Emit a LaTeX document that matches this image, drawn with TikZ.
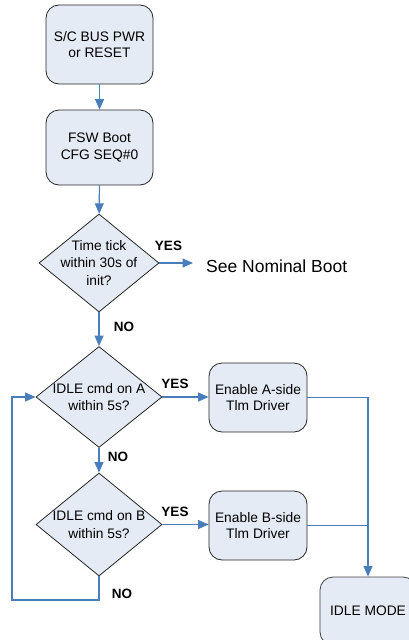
\documentclass[tikz,border=0pt]{standalone}
\usepackage{fontspec}
\setmainfont{Liberation Sans}
\usetikzlibrary{shapes.geometric,arrows.meta}
\definecolor{boxfill}{HTML}{E5EBF5}
\definecolor{flowblue}{HTML}{4A7EBB}
\tikzset{
  x=1pt, y=1pt,
  stepbox/.style={draw=black!85, line width=0.8pt, fill=boxfill, rounded corners=13pt,
    align=center, font=\fontsize{13.8}{16.5}\selectfont, inner sep=0pt},
  decision/.style={draw=black!85, line width=0.8pt, fill=boxfill, shape=diamond,
    inner sep=0pt},
  dtext/.style={align=center, font=\fontsize{13.8}{17.5}\selectfont, inner sep=0pt},
  answer/.style={font=\bfseries\fontsize{13.5}{15}\selectfont, inner sep=0pt},
  conn/.style={draw=flowblue, line width=1.1pt},
  arr/.style={conn, -{Triangle[width=9pt,length=10.5pt]}},
}
\begin{document}
\begin{tikzpicture}
\useasboundingbox (0,0) rectangle (409,-640);
\clip (0,0) rectangle (409,-640);

% process boxes
\node[stepbox, minimum width=107pt, minimum height=79pt] (pwr) at (99.5,-44.5) {S/C BUS PWR\\or RESET};
\node[stepbox, minimum width=107pt, minimum height=75pt] (boot) at (99.5,-147.5) {FSW Boot\\CFG SEQ\#0};

% decisions
\node[decision, minimum width=120pt, minimum height=98pt] (tick) at (99,-263) {};
\node[dtext] at (tick) {Time tick\\within 30s of\\init?};
\node[decision, minimum width=126pt, minimum height=101pt] (idleA) at (99,-397) {};
\node[dtext] at (idleA) {IDLE cmd on A\\within 5s?};
\node[decision, minimum width=126pt, minimum height=103pt] (idleB) at (99,-524.5) {};
\node[dtext] at (idleB) {IDLE cmd on B\\within 5s?};

% driver boxes
\node[stepbox, minimum width=98pt, minimum height=69pt] (drvA) at (258,-397.5) {Enable A-side\\Tlm Driver};
\node[stepbox, minimum width=98pt, minimum height=69pt] (drvB) at (258,-525.5) {Enable B-side\\Tlm Driver};
\node[stepbox, draw=black!75, minimum width=96pt, minimum height=68pt] (idle) at (368,-611) {IDLE MODE};

% off-page reference
\node[anchor=west, inner sep=0pt, font=\fontsize{17.5}{20}\selectfont] (nominal) at (206,-266) {See Nominal Boot};

% connectors
\draw[arr] (pwr) -- (boot);
\draw[arr] (boot) -- (tick);
\draw[arr] (tick.east) -- ([xshift=-13pt]tick.east -| nominal.west);
\draw[arr] (tick) -- (idleA);
\draw[arr] (idleA.east) -- (drvA.west |- idleA.east);
\draw[arr] (idleA) -- (idleB);
\draw[arr] (idleB.east) -- (drvB.west |- idleB.east);
\coordinate (merge) at (368,-397.5);
\draw[arr] (drvA.east) -- (merge) -- (idle.north);
\draw[conn] (drvB.east) -- (drvB.east -| merge);
\coordinate (loopR) at (99,-600);
\coordinate (loopL) at (12,-600);
\draw[arr] (idleB.south) -- (loopR) -- (loopL) -- (loopL |- idleA.west) -- (idleA.west);

% branch labels
\node[answer] at (168.5,-246) {YES};
\node[answer] at (124,-327) {NO};
\node[answer] at (175,-384) {YES};
\node[answer] at (118,-457) {NO};
\node[answer] at (175,-512) {YES};
\node[answer] at (122,-594) {NO};
\end{tikzpicture}
\end{document}
